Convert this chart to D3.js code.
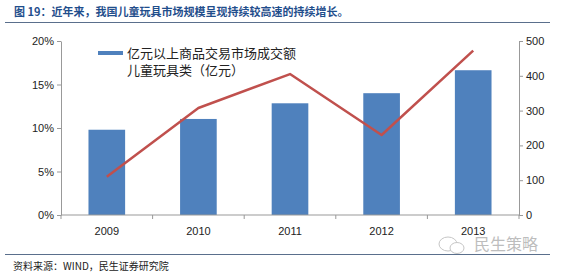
<!DOCTYPE html>
<html>
<head>
<meta charset="utf-8">
<script src="https://cdn.jsdelivr.net/npm/d3@7"></script>
<style>
  body { margin: 0; background: #fff; }
  svg { display: block; font-family: Arial, "Liberation Sans", "Noto Sans CJK SC", sans-serif; }
</style>
</head>
<body>
<div id="chart"></div>
<script>
// data
const years = ['2009', '2010', '2011', '2012', '2013'];
const amount = [245, 276, 321, 350, 416];          // bars, right axis (亿元)
const growth = [4.4, 12.3, 16.2, 9.2, 18.9];        // line, left axis (%)
const leftTicks = [0, 5, 10, 15, 20];
const rightTicks = [0, 100, 200, 300, 400, 500];

const titleText = '图 19：近年来，我国儿童玩具市场规模呈现持续较高速的持续增长。';
const legendLines = ['亿元以上商品交易市场成交额', '儿童玩具类（亿元）'];
const sourceText = '资料来源：WIND，民生证券研究院';

const width = 561, height = 272;
const margin = { top: 41, right: 42, bottom: 57, left: 61 };
const innerWidth = width - margin.left - margin.right;
const innerHeight = height - margin.top - margin.bottom;

const svg = d3.select('#chart').append('svg')
    .attr('width', width)
    .attr('height', height);

// header + footer
svg.append('text')
    .attr('x', 14).attr('y', 16)
    .attr('fill', '#1f4e8c')
    .attr('font-size', 11)
    .attr('font-weight', 'bold')
    .attr('font-family', '"Noto Sans CJK SC", sans-serif')
    .text(titleText);
svg.append('line')
    .attr('x1', 5).attr('x2', 550).attr('y1', 22.5).attr('y2', 22.5)
    .attr('stroke', '#5a6f8c').attr('stroke-width', 1);
svg.append('line')
    .attr('x1', 5).attr('x2', 550).attr('y1', 254.5).attr('y2', 254.5)
    .attr('stroke', '#5a6f8c').attr('stroke-width', 1);
svg.append('text')
    .attr('x', 13).attr('y', 269.5)
    .attr('fill', '#222')
    .attr('font-size', 10)
    .attr('font-family', '"Noto Sans CJK SC", sans-serif')
    .text(sourceText);

const g = svg.append('g').attr('transform', `translate(${margin.left},${margin.top})`);

// scales
const x = d3.scaleBand()
    .domain(years)
    .range([0, innerWidth])
    .paddingInner(0.6)
    .paddingOuter(0.3);
const yLeft = d3.scaleLinear().domain([0, 20]).range([innerHeight, 0]);
const yRight = d3.scaleLinear().domain([0, 500]).range([innerHeight, 0]);

const axisColor = '#999';

// left axis
g.append('g')
    .call(d3.axisLeft(yLeft).tickValues(leftTicks).tickFormat(d => d + '%').tickSize(4).tickSizeOuter(0))
    .call(a => a.select('.domain').attr('stroke', axisColor))
    .call(a => a.selectAll('line').attr('stroke', axisColor))
    .call(a => a.selectAll('text').attr('fill', '#222').attr('font-size', 11).attr('font-family', 'Arial, "Liberation Sans", sans-serif'));

// right axis
g.append('g')
    .attr('transform', `translate(${innerWidth},0)`)
    .call(d3.axisRight(yRight).tickValues(rightTicks).tickSize(4).tickSizeOuter(0))
    .call(a => a.select('.domain').attr('stroke', axisColor))
    .call(a => a.selectAll('line').attr('stroke', axisColor))
    .call(a => a.selectAll('text').attr('fill', '#222').attr('font-size', 11).attr('font-family', 'Arial, "Liberation Sans", sans-serif'));

// bars
g.selectAll('rect.bar')
    .data(years.map((yr, i) => ({ yr, v: amount[i] })))
    .join('rect')
    .attr('class', 'bar')
    .attr('x', d => x(d.yr))
    .attr('y', d => yRight(d.v))
    .attr('width', x.bandwidth())
    .attr('height', d => innerHeight - yRight(d.v))
    .attr('fill', '#4f81bd');

// x axis with category boundary ticks
const xAxis = g.append('g').attr('transform', `translate(0,${innerHeight})`);
xAxis.append('line')
    .attr('x1', 0).attr('x2', innerWidth)
    .attr('stroke', axisColor);
xAxis.selectAll('line.tick')
    .data(d3.range(years.length + 1))
    .join('line')
    .attr('class', 'tick')
    .attr('x1', i => i * x.step()).attr('x2', i => i * x.step())
    .attr('y1', 0).attr('y2', 4)
    .attr('stroke', axisColor);
xAxis.selectAll('text')
    .data(years)
    .join('text')
    .attr('x', d => x(d) + x.bandwidth() / 2)
    .attr('y', 20)
    .attr('text-anchor', 'middle')
    .attr('fill', '#222')
    .attr('font-size', 11)
    .text(d => d);

// growth line
const line = d3.line()
    .x((d, i) => x(years[i]) + x.bandwidth() / 2)
    .y(d => yLeft(d));
g.append('path')
    .datum(growth)
    .attr('d', line)
    .attr('fill', 'none')
    .attr('stroke', '#c0504d')
    .attr('stroke-width', 2.5)
    .attr('stroke-linejoin', 'round');

// legend
const lg = svg.append('g').attr('transform', 'translate(98,51)');
lg.append('rect')
    .attr('x', 0).attr('y', 0)
    .attr('width', 25).attr('height', 4)
    .attr('fill', '#4f81bd');
lg.selectAll('text')
    .data(legendLines)
    .join('text')
    .attr('x', 29)
    .attr('y', (d, i) => 7 + i * 17)
    .attr('fill', '#222')
    .attr('font-size', 13)
    .attr('font-family', '"Noto Sans CJK SC", sans-serif')
    .text(d => d);

// watermark
const wm = svg.append('g').attr('transform', 'translate(448,244)').attr('opacity', 0.55);
wm.append('ellipse')
    .attr('cx', 0).attr('cy', 0).attr('rx', 9).attr('ry', 7)
    .attr('fill', 'none').attr('stroke', '#999').attr('stroke-width', 1);
wm.append('ellipse')
    .attr('cx', 9).attr('cy', 4).attr('rx', 7).attr('ry', 5.5)
    .attr('fill', '#fff').attr('stroke', '#999').attr('stroke-width', 1);
wm.append('text')
    .attr('x', 26).attr('y', 6)
    .attr('fill', '#888')
    .attr('font-size', 16)
    .attr('font-family', '"Noto Sans CJK SC", sans-serif')
    .text('民生策略');
</script>
</body>
</html>
